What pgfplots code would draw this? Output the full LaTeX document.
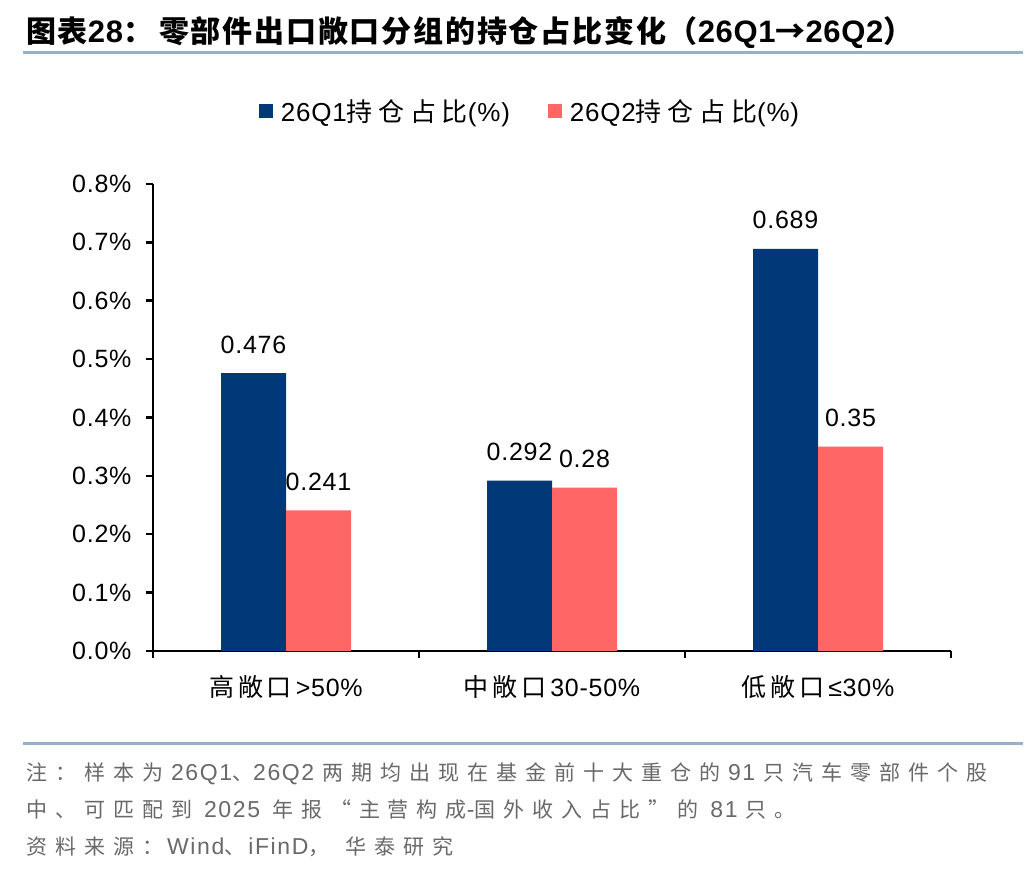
\documentclass[border=0pt]{standalone}
\usepackage{pgfplots}
\pgfplotsset{compat=1.18}
\usepackage{fontspec}
\setmainfont{Liberation Sans}[LetterSpace=3]
\newfontfamily\cjk{Noto Sans CJK SC}[LetterSpace=15]
\newfontfamily\cjkl{Noto Sans CJK SC}[LetterSpace=22]
\newfontfamily\cjkt{Noto Sans CJK SC}[LetterSpace=6]
\newfontfamily\titlat{Liberation Sans}[LetterSpace=2]
\newfontfamily\footlat{Liberation Sans}[LetterSpace=7]
\newfontfamily\footcjk{Noto Sans CJK SC}[LetterSpace=38]
\newcommand\zh[1]{{\cjk #1}}
\newcommand\zl[1]{{\cjkl #1}}
\newcommand\zt[1]{{\fontsize{30}{34}\cjkt #1}}
\newcommand\fz[1]{{\fontsize{21}{24}\footcjk #1}}
\definecolor{qblue}{RGB}{0,56,120}
\definecolor{qred}{RGB}{255,102,102}
\definecolor{rulecol}{RGB}{150,176,204}
\definecolor{footgray}{RGB}{105,105,105}
\begin{document}
\begin{tikzpicture}
\useasboundingbox (0,0) rectangle (1036pt,872pt);
\fill[white] (0,0) rectangle (1036pt,872pt);
% title
\node[anchor=base west, inner sep=0pt] at (26pt,829pt)
  {\fontsize{31}{34}\selectfont\bfseries\titlat \zt{图表}28\zt{：}\hspace{6pt}\zt{零部件出口敞口分组的持仓占比变化（}26Q1\zt{→}26Q2\zt{）}};
\draw[rulecol, line width=3pt] (23pt,819pt) -- (1023pt,819pt);
\draw[rulecol, line width=3pt] (23pt,128pt) -- (1023pt,128pt);
% footnote
\begin{scope}[every node/.style={anchor=base west, inner sep=0pt, text=footgray, font=\fontsize{23}{26}\footlat}]
\node at (26pt,91pt) {\fz{注：样本为} 26Q1\fz{、}26Q2 \fz{两期均出现在基金前十大重仓的} 91 \fz{只汽车零部件个股}};
\node at (26pt,54pt) {\fz{中、可匹配到}\hspace{4pt} 2025\hspace{4pt} \fz{年报“主营构成}-\fz{国外收入占比”的}\hspace{4pt} 81 \fz{只。}};
\node at (26pt,17pt) {\fz{资料来源：}\hspace{4pt}Wind\fz{、}\hspace{3pt}iFinD\fz{，}\hspace{16pt}\fz{华泰研究}};
\end{scope}
\begin{axis}[
  at={(153pt,221pt)}, anchor=south west,
  scale only axis, width=798pt, height=467pt,
  xmin=-0.5, xmax=2.5, ymin=0, ymax=0.8,
  axis x line*=bottom, axis y line*=left,
  axis line style={line width=2.5pt, black},
  tick align=outside, major tick length=7pt,
  every tick/.style={black, line width=2.5pt},
  xtick={-0.5,0.5,1.5,2.5}, xticklabels={},
  extra x ticks={0,1,2},
  extra x tick labels={\zh{高敞口}\hspace{4pt}>50\%, \zh{中敞口}\hspace{4pt}30-50\%, \zh{低敞口}\hspace{4pt}≤30\%},
  extra x tick style={major tick length=0pt},
  xticklabel style={yshift=-21pt},
  ytick={0,0.1,0.2,0.3,0.4,0.5,0.6,0.7,0.8},
  yticklabels={0.0\%,0.1\%,0.2\%,0.3\%,0.4\%,0.5\%,0.6\%,0.7\%,0.8\%},
  yticklabel style={xshift=-11pt},
  ticklabel style={font=\fontsize{25}{30}\selectfont},
  ybar, bar width=65pt,
  legend style={at={(0.4724,1.156)}, anchor=center, draw=none, fill=none,
    legend columns=2, font=\fontsize{26}{30}\selectfont,
    /tikz/every even column/.append style={column sep=36pt}},
  legend cell align=left,
  nodes near coords, point meta=explicit symbolic,
  nodes near coords style={font=\fontsize{25}{30}\selectfont, anchor=base, yshift=20pt, inner sep=0pt, text=black},
]
\addplot[fill=qblue, draw=none, bar shift=-32.5pt,
  legend image code/.code={\fill[qblue] (0pt,-7pt) rectangle (14pt,7pt);}]
  coordinates {(0,0.476)[0.476] (1,0.292)[0.292] (2,0.689)[0.689]};
\addplot[fill=qred, draw=none, bar shift=32.5pt,
  legend image code/.code={\fill[qred] (0pt,-7pt) rectangle (14pt,7pt);}]
  coordinates {(0,0.241)[0.241] (1,0.28)[0.28] (2,0.35)[0.35]};
\legend{\hspace{6pt}26Q1\zl{持仓占比}(\%), \hspace{6pt}26Q2\zl{持仓占比}(\%)}
\end{axis}
\end{tikzpicture}
\end{document}
